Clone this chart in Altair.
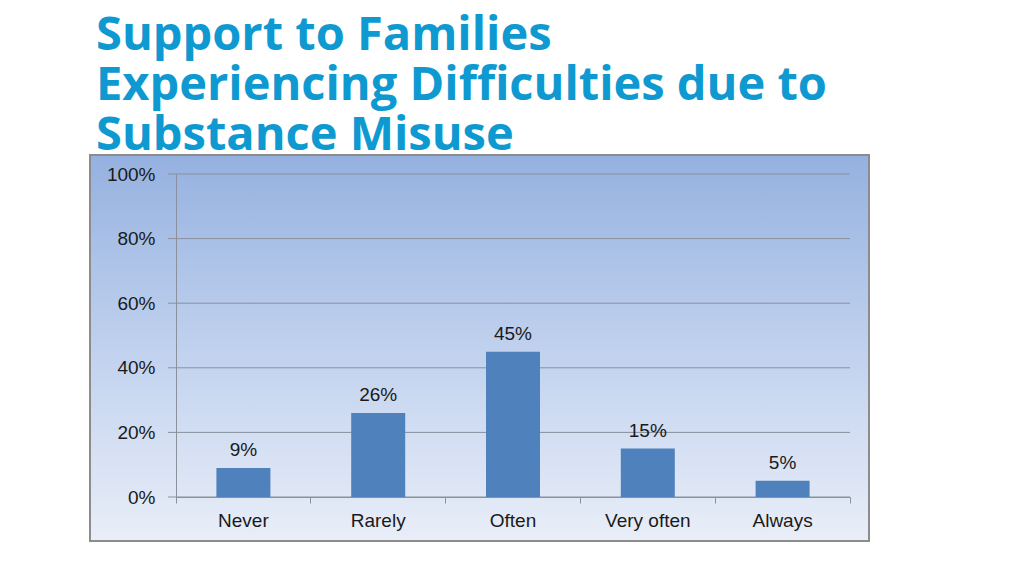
import pandas as pd
import altair as alt

categories = ["Never", "Rarely", "Often", "Very often", "Always"]
shares = [9, 26, 45, 15, 5]
y_ticks = [0, 20, 40, 60, 80, 100]
title_lines = ["Support to Families", "Experiencing Difficulties due to", "Substance Misuse"]

df = pd.DataFrame({"cat": categories, "val": shares})
df["label"] = df["val"].astype(str) + "%"
df_grid = pd.DataFrame({"tick": y_ticks})
df_box = pd.DataFrame({"a": [0]})

W, H = 674, 323
line_col = "#8a909c"
txt_col = "#1a1a1a"

x_scale = alt.Scale(domain=categories, paddingInner=0, paddingOuter=0)
y_scale = alt.Scale(domain=[0, 100])
x_axis = alt.Axis(labelFont="Liberation Sans", labelFontSize=19, labelColor=txt_col,
                  labelAngle=0, labelPadding=8, domainColor=line_col, tickColor=line_col,
                  tickSize=6, bandPosition=1, tickExtra=True, zindex=1)
y_axis = alt.Axis(values=y_ticks, labelExpr="datum.value + '%'", grid=False,
                  labelFont="Liberation Sans", labelFontSize=19, labelColor=txt_col,
                  labelPadding=21, domainColor=line_col, ticks=False, zindex=1)

# gradient panel behind the plot
box = alt.Chart(df_box).mark_rect(
    fill=alt.Gradient(gradient="linear", x1=0, y1=0, x2=0, y2=1,
                      stops=[alt.GradientStop(offset=0, color="#95b1e0"),
                             alt.GradientStop(offset=0.5, color="#c0d1ee"),
                             alt.GradientStop(offset=1, color="#e9eef8")]),
    stroke="#8c8c8c", strokeWidth=2
).encode(x=alt.value(-86), x2=alt.value(W + 19), y=alt.value(-19), y2=alt.value(H + 44))

grid = alt.Chart(df_grid).mark_rule(color=line_col, strokeWidth=1).encode(
    y=alt.Y("tick:Q", scale=y_scale, axis=y_axis, title=None),
    x=alt.value(-8), x2=alt.value(W)
)

bars = alt.Chart(df).mark_bar(color="#4f81bd", width=54).encode(
    x=alt.X("cat:N", sort=categories, title=None, scale=x_scale, axis=x_axis),
    y=alt.Y("val:Q", scale=y_scale, title=None, axis=y_axis)
)

labels = alt.Chart(df).mark_text(font="Liberation Sans", fontSize=19, color=txt_col,
                                 dy=-18).encode(
    x=alt.X("cat:N", sort=categories, scale=x_scale, axis=x_axis, title=None),
    y=alt.Y("val:Q", scale=y_scale, axis=y_axis, title=None),
    text="label:N"
)

chart = alt.layer(box, grid, bars, labels).properties(
    width=W, height=H,
    autosize=alt.AutoSizeParams(type="none"),
    padding={"left": 168, "top": 166, "right": 150, "bottom": 62},
    title=alt.TitleParams(title_lines, anchor="start", frame="group", font="Open Sans",
                          fontWeight="bold", fontSize=47, lineHeight=50, color="#0e9ad1",
                          dx=-80, dy=28, offset=22)
).configure_view(stroke=None)

chart.save("out.html", embed_options={"renderer": "svg", "actions": False})
